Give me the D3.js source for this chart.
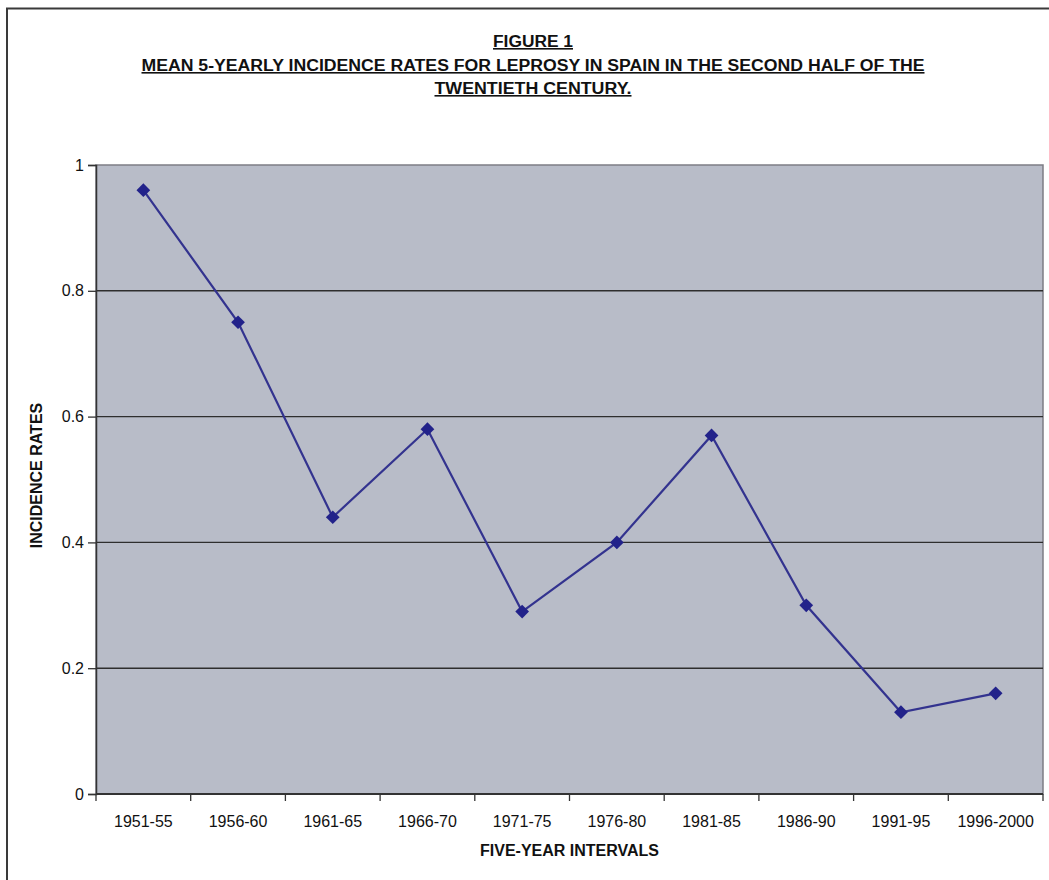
<!DOCTYPE html>
<html>
<head>
<meta charset="utf-8">
<script src="https://cdn.jsdelivr.net/npm/d3@7"></script>
<style>
  html, body { margin: 0; padding: 0; background: #ffffff; }
  svg { display: block; }
  text { font-family: "Liberation Sans", Arial, sans-serif; fill: #111; }
</style>
</head>
<body>
<svg id="chart" width="1049" height="880"></svg>
<script>
const categories = ["1951-55", "1956-60", "1961-65", "1966-70", "1971-75", "1976-80", "1981-85", "1986-90", "1991-95", "1996-2000"];
const incidenceRates = [0.96, 0.75, 0.44, 0.58, 0.29, 0.40, 0.57, 0.30, 0.13, 0.16];
const yTicks = [0, 0.2, 0.4, 0.6, 0.8, 1];
const titleLines = ["FIGURE 1", "MEAN 5-YEARLY INCIDENCE RATES FOR LEPROSY IN SPAIN IN THE SECOND HALF OF THE", "TWENTIETH CENTURY."];
const xTitle = "FIVE-YEAR INTERVALS";
const yTitle = "INCIDENCE RATES";

const svg = d3.select("#chart");
const W = 1049, H = 880;
const plot = { left: 96, right: 1043, top: 165, bottom: 794 };

// outer frame (left and top edges visible)
svg.append("path")
  .attr("d", `M7,${H} L7,8.5 L${W},8.5`)
  .attr("fill", "none").attr("stroke", "#3a3a3a").attr("stroke-width", 2);

const x = d3.scaleBand().domain(categories).range([plot.left, plot.right]).padding(0);
const y = d3.scaleLinear().domain([0, 1]).range([plot.bottom, plot.top]);

// plot background
svg.append("rect")
  .attr("x", plot.left).attr("y", plot.top)
  .attr("width", plot.right - plot.left).attr("height", plot.bottom - plot.top)
  .attr("fill", "#b8bcc8").attr("stroke", "#7d7d85").attr("stroke-width", 1.5);

// gridlines
svg.append("g").selectAll("line")
  .data(yTicks.filter(t => t > 0 && t < 1))
  .join("line")
  .attr("x1", plot.left).attr("x2", plot.right)
  .attr("y1", d => y(d)).attr("y2", d => y(d))
  .attr("stroke", "#2e2e2e").attr("stroke-width", 1.4);

// y axis
const yAxis = d3.axisLeft(y).tickValues(yTicks).tickSize(8).tickPadding(4)
  .tickFormat(d => d === 0 ? "0" : d === 1 ? "1" : d3.format(".1f")(d));
const gy = svg.append("g").attr("transform", `translate(${plot.left},0)`).call(yAxis);
gy.select(".domain").attr("stroke", "#333").attr("stroke-width", 1.5);
gy.selectAll(".tick line").attr("stroke", "#333").attr("stroke-width", 1.3);
gy.selectAll(".tick text").style("font-size", "16px").style("font-family", "Liberation Sans, Arial, sans-serif").attr("fill", "#111");

// x axis: ticks at category boundaries
const gx = svg.append("g").attr("transform", `translate(0,${plot.bottom})`);
gx.append("line").attr("x1", plot.left).attr("x2", plot.right).attr("y1", 0).attr("y2", 0)
  .attr("stroke", "#333").attr("stroke-width", 2);
const boundaries = categories.map(c => x(c)).concat([x(categories[categories.length - 1]) + x.bandwidth()]);
gx.selectAll("line.tk").data(boundaries).join("line").attr("class", "tk")
  .attr("x1", d => d).attr("x2", d => d).attr("y1", 0).attr("y2", 7)
  .attr("stroke", "#333").attr("stroke-width", 1.3);
gx.selectAll("text.lbl").data(categories).join("text").attr("class", "lbl")
  .attr("x", d => x(d) + x.bandwidth() / 2).attr("y", 33)
  .attr("text-anchor", "middle").style("font-size", "16px")
  .text(d => d);

// line
const line = d3.line()
  .x((d, i) => x(categories[i]) + x.bandwidth() / 2)
  .y(d => y(d));
svg.append("path").datum(incidenceRates)
  .attr("d", line).attr("fill", "none")
  .attr("stroke", "#33338f").attr("stroke-width", 2.2);

// diamond markers
const diamond = d3.symbol().type(d3.symbolDiamond2).size(120);
svg.append("g").selectAll("path")
  .data(incidenceRates)
  .join("path")
  .attr("d", diamond)
  .attr("transform", (d, i) => `translate(${x(categories[i]) + x.bandwidth() / 2},${y(d)})`)
  .attr("fill", "#22228a");

// title
const titleY = [47, 71, 94];
const titleWidths = [80, 783, 197];
titleLines.forEach((t, i) => {
  svg.append("text")
    .attr("x", 533).attr("y", titleY[i])
    .attr("text-anchor", "middle")
    .style("font-size", "16px").style("font-weight", "bold")
    .style("text-decoration", "underline")
    .attr("textLength", titleWidths[i]).attr("lengthAdjust", "spacingAndGlyphs")
    .text(t);
});

// axis titles
svg.append("text")
  .attr("x", (plot.left + plot.right) / 2).attr("y", 856)
  .attr("text-anchor", "middle")
  .style("font-size", "16px").style("font-weight", "bold")
  .text(xTitle);

svg.append("text")
  .attr("transform", `translate(42,${(plot.top + plot.bottom) / 2 - 4}) rotate(-90)`)
  .attr("text-anchor", "middle")
  .style("font-size", "16px").style("font-weight", "bold")
  .text(yTitle);
</script>
</body>
</html>
